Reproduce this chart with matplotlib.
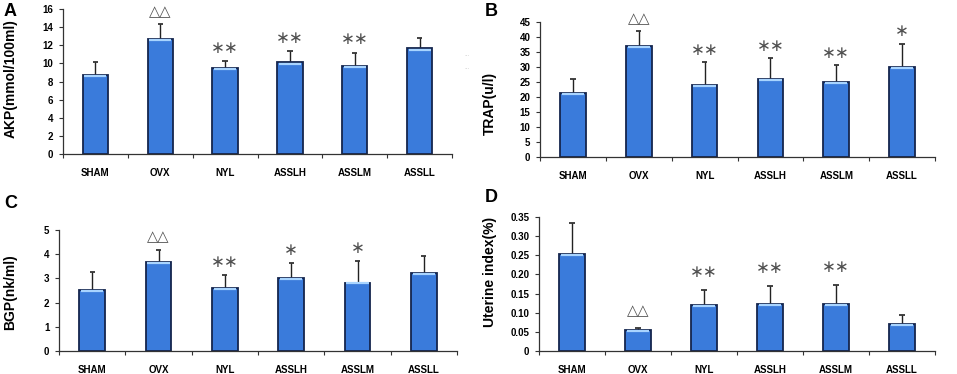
import numpy as np
import matplotlib
matplotlib.use("Agg")
import matplotlib.pyplot as plt

plt.rcParams['font.family'] = ['Liberation Sans', 'DejaVu Sans']

# groups shared by all panels
groups = ['SHAM', 'OVX', 'NYL', 'ASSLH', 'ASSLM', 'ASSLL']

# A: AKP
akp_mean = [8.7, 12.7, 9.5, 10.1, 9.75, 11.65]
akp_err_top = [10.1, 14.3, 10.3, 11.4, 11.2, 12.85]
akp_marks = ['', '△△', '∗∗', '∗∗', '∗∗', '']

# B: TRAP
trap_mean = [21.4, 36.9, 23.9, 25.9, 25.1, 30.1]
trap_err_top = [26.1, 42.0, 31.6, 32.9, 30.6, 37.8]
trap_marks = ['', '△△', '∗∗', '∗∗', '∗∗', '∗']

# C: BGP
bgp_mean = [2.52, 3.67, 2.59, 3.01, 2.83, 3.24]
bgp_err_top = [3.28, 4.19, 3.12, 3.64, 3.71, 3.91]
bgp_marks = ['', '△△', '∗∗', '∗', '∗', '']

# D: uterine index
ut_mean = [0.254, 0.056, 0.120, 0.124, 0.124, 0.070]
ut_err_top = [0.335, 0.061, 0.160, 0.170, 0.173, 0.094]
ut_marks = ['', '△△', '∗∗', '∗∗', '∗∗', '']

W, H = 957, 374
fig = plt.figure(figsize=(W / 100, H / 100), dpi=100)


def px_axes(left, top, right, bottom):
    # axes box given in pixel coords of the reference
    return fig.add_axes([left / W, 1 - bottom / H, (right - left) / W, (bottom - top) / H])


def draw_panel(ax, means, tops, marks, ymax, ystep, ylabel, label_xy, fmt=None, mark_gap=0.1):
    x = np.arange(len(groups))
    ax.bar(x, means, width=0.39, color='#3a7bdb', edgecolor='#15254d', linewidth=1.3, zorder=2)
    # light rim at the top of each bar
    ax.hlines(np.array(means) - ymax * 0.008, x - 0.17, x + 0.17, color='#a8d4ff', lw=1.6, zorder=3)
    # upper-only error bars
    ax.vlines(x, means, tops, color='#222222', lw=1.0, zorder=1)
    ax.hlines(tops, x - 0.04, x + 0.04, color='#222222', lw=1.2, zorder=1)
    for xi, t, m in zip(x, tops, marks):
        if m:
            ax.text(xi, t + ymax * mark_gap, m, ha='center', va='center', fontsize=12 if '∗' in m else 10.5,
                    color='#505050', family='DejaVu Sans', clip_on=False)
    ax.set_xlim(-0.5, len(groups) - 0.5)
    ax.set_ylim(0, ymax)
    ticks = np.arange(0, ymax + ystep / 2, ystep)
    ax.set_yticks(ticks)
    if fmt:
        ax.set_yticklabels(['0'] + [fmt.format(t) for t in ticks[1:]])
    ax.set_xticks(x)
    ax.set_xticklabels(groups)
    ax.set_xticks(np.arange(-0.5, len(groups)), minor=True)
    ax.tick_params(axis='x', which='major', length=0, pad=10, labelsize=7)
    ax.tick_params(axis='x', which='minor', length=3, width=0.8, color='#333333')
    ax.tick_params(axis='y', length=3, width=0.8, labelsize=7, pad=4, color='#333333')
    for lab in ax.get_xticklabels() + ax.get_yticklabels():
        lab.set_fontweight('bold')
    for s in ['top', 'right']:
        ax.spines[s].set_visible(False)
    for s in ['left', 'bottom']:
        ax.spines[s].set_color('#333333')
        ax.spines[s].set_linewidth(0.9)
    ax.set_ylabel(ylabel, fontsize=10, fontweight='bold', va='center')
    ax.yaxis.set_label_coords(*label_xy)


axA = px_axes(63, 9, 452, 154)
draw_panel(axA, akp_mean, akp_err_top, akp_marks, 16, 2, 'AKP(mmol/100ml)', (-0.135, 0.52), mark_gap=0.09)

axB = px_axes(540, 22, 935, 157)
draw_panel(axB, trap_mean, trap_err_top, trap_marks, 45, 5, 'TRAP(u/l)', (-0.126, 0.40), mark_gap=0.09)

axC = px_axes(59, 230, 457, 351)
draw_panel(axC, bgp_mean, bgp_err_top, bgp_marks, 5, 1, 'BGP(nk/ml)', (-0.122, 0.49), mark_gap=0.11)

axD = px_axes(539, 217, 935, 351)
draw_panel(axD, ut_mean, ut_err_top, ut_marks, 0.35, 0.05, 'Uterine index(%)', (-0.124, 0.59),
           fmt='{:.2f}', mark_gap=0.13)

# panel letters
for letter, (lx, ly) in zip('ABCD', [(4, 3), (485, 3), (4, 195), (485, 189)]):
    fig.text(lx / W, 1 - ly / H, letter, fontsize=13, fontweight='bold', va='top', ha='left')

# faint marks at right edge of panel A
fig.text(467 / W, 1 - 56 / H, '···', fontsize=4, color='#aaaaaa', ha='center', va='center')
fig.text(467 / W, 1 - 69 / H, '···', fontsize=4, color='#aaaaaa', ha='center', va='center')

fig.savefig('out.png', dpi=100, facecolor='white')
